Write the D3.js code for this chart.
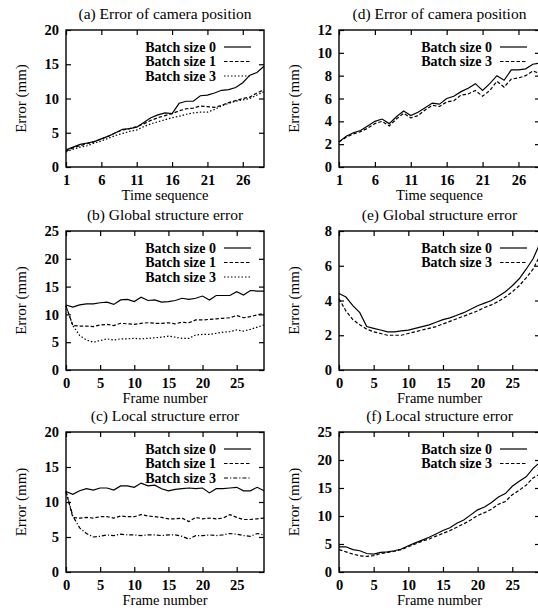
<!DOCTYPE html>
<html>
<head>
<meta charset="utf-8">
<script src="https://cdn.jsdelivr.net/npm/d3@7"></script>
<style>
  body { margin: 0; background: #fff; font-family: "Liberation Serif", "Times New Roman", Times, serif; }
  svg { display: block; }
  svg, svg text { font-family: "Liberation Serif", "Times New Roman", Times, serif !important; }
</style>
</head>
<body>
<svg id="chart" width="538" height="608"></svg>
<script>
// x values
const timeSequence = [1, 2, 3, 4, 5, 6, 7, 8, 9, 10, 11, 12, 13, 14, 15, 16, 17, 18, 19, 20, 21, 22, 23, 24, 25, 26, 27, 28, 29];
const frameNumber = [0, 1, 2, 3, 4, 5, 6, 7, 8, 9, 10, 11, 12, 13, 14, 15, 16, 17, 18, 19, 20, 21, 22, 23, 24, 25, 26, 27, 28, 29];

// tick labels
const timeTicks = [1, 6, 11, 16, 21, 26];
const frameTicks = [0, 5, 10, 15, 20, 25];
const yTicks20 = [0, 5, 10, 15, 20];
const yTicks25 = [0, 5, 10, 15, 20, 25];
const yTicks12 = [0, 2, 4, 6, 8, 10, 12];
const yTicks8 = [0, 2, 4, 6, 8];

// (a) error of camera position
const camA0 = [2.5, 2.9, 3.3, 3.5, 3.7, 4.1, 4.5, 5.0, 5.5, 5.6, 5.8, 6.5, 7.2, 7.6, 7.9, 7.8, 9.3, 9.6, 9.6, 10.4, 10.5, 10.8, 11.2, 11.3, 11.6, 12.3, 13.4, 13.8, 14.7];
const camA1 = [2.3, 2.8, 3.1, 3.4, 3.7, 4.1, 4.5, 5.0, 5.4, 5.6, 5.9, 6.3, 6.8, 7.2, 7.5, 7.8, 8.2, 8.5, 8.6, 8.9, 8.8, 8.7, 9.0, 9.4, 9.7, 10.0, 10.2, 10.8, 11.3];
const camA3 = [2.2, 2.6, 2.9, 3.1, 3.5, 3.8, 4.2, 4.6, 4.9, 5.2, 5.4, 5.9, 6.3, 6.6, 6.9, 7.2, 7.4, 7.7, 7.9, 8.0, 8.0, 8.4, 8.9, 9.3, 9.6, 9.8, 10.0, 10.5, 11.0];

// (b) global structure error
const globB0 = [11.7, 11.3, 11.7, 11.9, 11.9, 12.1, 12.2, 11.8, 12.6, 12.7, 12.3, 13.1, 12.5, 12.6, 12.2, 12.3, 12.5, 12.9, 12.7, 12.9, 13.3, 12.6, 13.4, 13.4, 13.4, 14.1, 13.5, 14.3, 14.2, 14.2];
const globB1 = [11.5, 8.0, 7.9, 7.9, 7.8, 8.1, 8.2, 8.0, 8.4, 8.3, 8.2, 8.4, 8.5, 8.4, 8.4, 8.5, 8.3, 8.6, 8.5, 9.0, 9.0, 9.1, 9.2, 9.3, 9.4, 9.8, 9.4, 9.6, 9.9, 10.2];
const globB3 = [11.5, 8.0, 6.2, 5.4, 5.0, 5.3, 5.6, 5.4, 5.6, 5.6, 5.7, 5.6, 5.7, 5.8, 5.9, 6.1, 5.9, 5.7, 5.7, 6.3, 6.4, 6.4, 6.6, 6.8, 6.9, 7.2, 7.0, 7.3, 7.7, 8.1];

// (c) local structure error
const locC0 = [11.5, 11.1, 11.6, 11.9, 11.7, 12.0, 12.0, 11.7, 12.3, 12.3, 12.1, 12.7, 12.3, 12.4, 11.9, 11.6, 11.8, 11.9, 12.0, 11.9, 12.0, 11.3, 11.9, 11.9, 12.0, 12.1, 11.6, 11.6, 12.1, 11.6];
const locC1 = [11.5, 7.8, 7.7, 7.8, 7.7, 7.9, 7.9, 7.7, 8.0, 7.9, 7.9, 8.2, 8.0, 7.9, 7.8, 7.6, 7.6, 7.7, 7.2, 7.8, 7.6, 7.7, 7.6, 7.7, 8.2, 7.8, 7.5, 7.5, 7.6, 7.7];
const locC3 = [11.5, 8.0, 6.3, 5.5, 5.0, 5.1, 5.3, 5.2, 5.4, 5.3, 5.3, 5.2, 5.3, 5.3, 5.2, 5.3, 5.3, 5.1, 4.7, 5.2, 5.2, 5.3, 5.2, 5.3, 5.5, 5.4, 5.2, 5.1, 5.5, 5.3];

// (d) error of camera position
const camD0 = [2.2, 2.7, 3.0, 3.2, 3.6, 4.0, 4.2, 3.8, 4.4, 4.9, 4.5, 4.8, 5.2, 5.6, 5.5, 6.0, 6.2, 6.6, 6.9, 7.3, 6.7, 7.3, 8.0, 7.6, 8.5, 8.5, 8.6, 9.0, 9.1];
const camD3 = [2.2, 2.6, 2.9, 3.1, 3.4, 3.8, 4.0, 3.6, 4.2, 4.7, 4.3, 4.5, 5.0, 5.4, 5.3, 5.7, 5.8, 6.3, 6.4, 6.7, 6.2, 6.7, 7.5, 7.0, 7.7, 7.8, 8.0, 8.4, 8.2];

// (e) global structure error
const globE0 = [4.4, 4.2, 3.7, 3.3, 2.5, 2.4, 2.3, 2.2, 2.2, 2.25, 2.3, 2.4, 2.5, 2.6, 2.75, 2.9, 3.0, 3.15, 3.3, 3.5, 3.7, 3.85, 4.0, 4.25, 4.5, 4.85, 5.25, 5.8, 6.4, 7.3];
const globE3 = [4.1, 3.4, 2.9, 2.6, 2.35, 2.2, 2.1, 2.0, 2.0, 2.0, 2.1, 2.2, 2.3, 2.4, 2.5, 2.65, 2.8, 2.95, 3.1, 3.25, 3.4, 3.6, 3.75, 3.95, 4.2, 4.5, 4.85, 5.3, 5.8, 6.6];

// (f) local structure error
const locF0 = [4.5, 4.5, 4.0, 3.8, 3.3, 3.2, 3.5, 3.6, 3.8, 4.1, 4.7, 5.2, 5.7, 6.2, 6.8, 7.4, 7.9, 8.7, 9.3, 10.2, 11.1, 11.6, 12.4, 13.4, 14.0, 15.3, 16.2, 17.0, 18.5, 19.6];
const locF3 = [4.0, 3.6, 3.2, 2.9, 2.8, 2.9, 3.3, 3.5, 3.7, 4.0, 4.5, 5.0, 5.5, 5.9, 6.4, 6.9, 7.4, 8.0, 8.6, 9.3, 10.1, 10.6, 11.2, 12.1, 12.6, 13.8, 14.6, 15.5, 16.8, 17.5];

const labels013 = ['Batch size 0', 'Batch size 1', 'Batch size 3'];
const labels03 = ['Batch size 0', 'Batch size 3'];

// line styles
const SOLID = null, DASHED = '3.5,2', DOTTED = '1.5,2', DASHDOT = '4,2,1.2,2';

const svg = d3.select('#chart');

// panel boxes (left, right) and (top, bottom)
const colX = [[66, 264], [339, 540]];
const rowY = [[30, 167], [231, 370], [432, 572]];

const panels = [
  { title: '(a) Error of camera position', col: 0, row: 0, x: timeSequence, xDomain: [1, 29], xTicks: timeTicks, xLabel: 'Time sequence', yMax: 20, yTicks: yTicks20, series: [camA0, camA1, camA3], names: labels013, dashes: [SOLID, DASHED, DOTTED] },
  { title: '(b) Global structure error', col: 0, row: 1, x: frameNumber, xDomain: [0, 29], xTicks: frameTicks, xLabel: 'Frame number', yMax: 25, yTicks: yTicks25, series: [globB0, globB1, globB3], names: labels013, dashes: [SOLID, DASHED, DOTTED] },
  { title: '(c) Local structure error', col: 0, row: 2, x: frameNumber, xDomain: [0, 29], xTicks: frameTicks, xLabel: 'Frame number', yMax: 20, yTicks: yTicks20, series: [locC0, locC1, locC3], names: labels013, dashes: [SOLID, DASHED, DASHDOT] },
  { title: '(d) Error of camera position', col: 1, row: 0, x: timeSequence, xDomain: [1, 29], xTicks: timeTicks, xLabel: 'Time sequence', yMax: 12, yTicks: yTicks12, series: [camD0, camD3], names: labels03, dashes: [SOLID, DASHED] },
  { title: '(e) Global structure error', col: 1, row: 1, x: frameNumber, xDomain: [0, 29], xTicks: frameTicks, xLabel: 'Frame number', yMax: 8, yTicks: yTicks8, series: [globE0, globE3], names: labels03, dashes: [SOLID, DASHED] },
  { title: '(f) Local structure error', col: 1, row: 2, x: frameNumber, xDomain: [0, 29], xTicks: frameTicks, xLabel: 'Frame number', yMax: 25, yTicks: yTicks25, series: [locF0, locF3], names: labels03, dashes: [SOLID, DASHED] }
];

panels.forEach(drawPanel);

function drawPanel(p) {
  var x0 = colX[p.col][0], x1 = colX[p.col][1];
  var y0 = rowY[p.row][0], y1 = rowY[p.row][1];
  var g = svg.append('g');

  var x = d3.scaleLinear().domain(p.xDomain).range([x0, x1]);
  var y = d3.scaleLinear().domain([0, p.yMax]).range([y1, y0]);

  // inward ticks on all four sides (gnuplot style)
  var tickLen = 5;
  g.append('g').attr('transform', 'translate(0,' + y1 + ')')
    .call(d3.axisBottom(x).tickValues(p.xTicks).tickSize(-tickLen).tickPadding(tickLen + 3))
    .call(styleAxis);
  g.append('g').attr('transform', 'translate(0,' + y0 + ')')
    .call(d3.axisTop(x).tickValues(p.xTicks).tickSize(-tickLen).tickFormat(''))
    .call(styleAxis);
  g.append('g').attr('transform', 'translate(' + x0 + ',0)')
    .call(d3.axisLeft(y).tickValues(p.yTicks).tickSize(-tickLen).tickPadding(tickLen + 2))
    .call(styleAxis);
  g.append('g').attr('transform', 'translate(' + x1 + ',0)')
    .call(d3.axisRight(y).tickValues(p.yTicks).tickSize(-tickLen).tickFormat(''))
    .call(styleAxis);

  // frame
  g.append('rect')
    .attr('x', x0).attr('y', y0)
    .attr('width', x1 - x0).attr('height', y1 - y0)
    .attr('fill', 'none').attr('stroke', '#000').attr('stroke-width', 1.4);

  // data lines
  var line = d3.line()
    .x(function (d, i) { return x(p.x[i]); })
    .y(function (d) { return y(d); });

  p.series.forEach(function (s, i) {
    g.append('path')
      .attr('d', line(s))
      .attr('fill', 'none')
      .attr('stroke', '#000')
      .attr('stroke-width', 1.2)
      .attr('stroke-dasharray', p.dashes[i]);
  });

  // legend
  p.names.forEach(function (name, i) {
    var ly = y0 + 17 + i * 14.5;
    g.append('text')
      .attr('x', x1 - 48).attr('y', ly)
      .attr('dy', '0.35em')
      .attr('text-anchor', 'end')
      .attr('font-size', 14).attr('font-weight', 'bold')
      .text(name);
    g.append('line')
      .attr('x1', x1 - 40).attr('x2', x1 - 13)
      .attr('y1', ly).attr('y2', ly)
      .attr('stroke', '#000').attr('stroke-width', 1.2)
      .attr('stroke-dasharray', p.dashes[i]);
  });

  // title
  svg.append('text')
    .attr('x', (x0 + x1) / 2).attr('y', y0 - 16)
    .attr('dy', '0.35em')
    .attr('text-anchor', 'middle')
    .attr('font-size', 15.5)
    .text(p.title);

  // x label
  svg.append('text')
    .attr('x', (x0 + x1) / 2).attr('y', y1 + 28)
    .attr('dy', '0.35em')
    .attr('text-anchor', 'middle')
    .attr('font-size', 14.5)
    .text(p.xLabel);

  // y label
  svg.append('text')
    .attr('transform', 'translate(' + (x0 - 45) + ',' + (y0 + y1) / 2 + ') rotate(-90)')
    .attr('dy', '0.35em')
    .attr('text-anchor', 'middle')
    .attr('font-size', 15)
    .text('Error (mm)');
}

function styleAxis(sel) {
  sel.attr('font-family', null);
  sel.select('.domain').remove();
  sel.selectAll('.tick line').attr('stroke', '#000').attr('stroke-width', 1.2);
  sel.selectAll('.tick text')
    .attr('fill', '#000')
    .attr('font-size', 14.5)
    .attr('font-weight', 'bold');
}
</script>
</body>
</html>
